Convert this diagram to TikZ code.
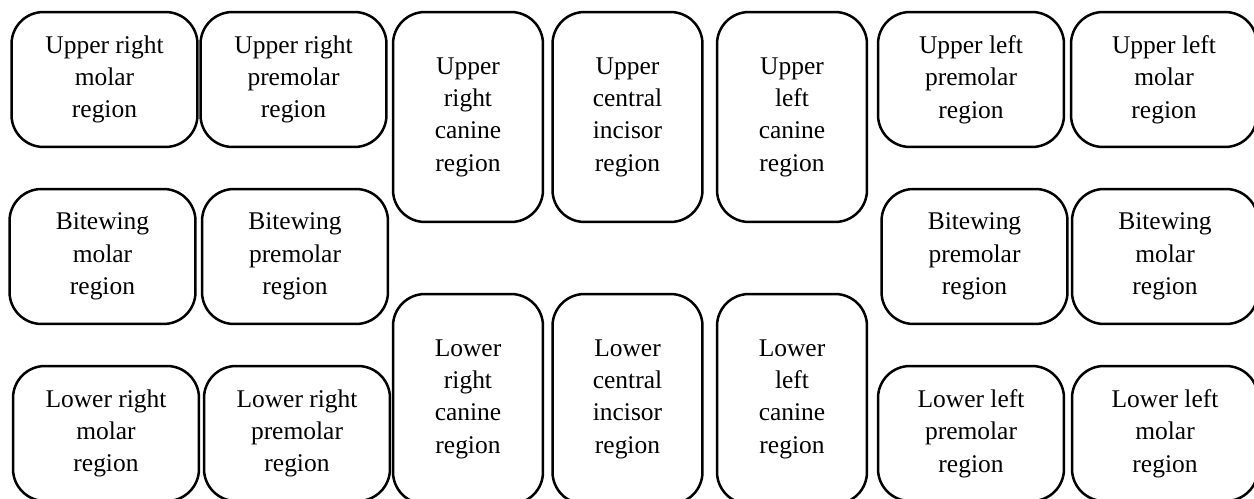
\documentclass[tikz,border=0pt]{standalone}
\usepackage{fontspec}
\setmainfont{Liberation Serif}
\usepackage{tikz}
\tikzset{region/.style={draw=black,line width=0.05cm,rounded corners=0.64cm,align=center,inner sep=0pt,
    font=\fontsize{14.5}{18.4}\selectfont},
  wide/.style={region,minimum width=3.72cm,minimum height=2.7cm},
  tall/.style={region,minimum width=3.0cm,minimum height=4.2cm}}
\begin{document}
\begin{tikzpicture}[line cap=round,line join=round,x=0.02cm,y=-0.02cm]
      \useasboundingbox (0,0) rectangle (1254,499);
      \clip (0,0) rectangle (1254,499);
      \node[wide] (urm) at (104.5,79.5) {Upper right\\molar\\region};
      \node[wide] (urp) at (293.5,79.5) {Upper right\\premolar\\region};
      \node[tall] (urc) at (468,117) {Upper\\right\\canine\\region};
      \node[tall] (uci) at (627.5,117) {Upper\\central\\incisor\\region};
      \node[tall] (ulc) at (792,117) {Upper\\left\\canine\\region};
      \node[wide] (ulp) at (971,79.5) {Upper left\\premolar\\region};
      \node[wide] (ulm) at (1164,79.5) {Upper left\\molar\\region};
      \node[wide] (brm) at (102.5,256.5) {Bitewing\\molar\\region};
      \node[wide] (brp) at (295,256.5) {Bitewing\\premolar\\region};
      \node[wide] (blp) at (974.5,256.5) {Bitewing\\premolar\\region};
      \node[wide] (blm) at (1165,256.5) {Bitewing\\molar\\region};
      \node[wide] (lrm) at (106,433.5) {Lower right\\molar\\region};
      \node[wide] (lrp) at (297,433.5) {Lower right\\premolar\\region};
      \node[tall] (lrc) at (468,399) {Lower\\right\\canine\\region};
      \node[tall] (lci) at (627.5,399) {Lower\\central\\incisor\\region};
      \node[tall] (llc) at (792,399) {Lower\\left\\canine\\region};
      \node[wide] (llp) at (971,433.5) {Lower left\\premolar\\region};
      \node[wide] (llm) at (1165,433.5) {Lower left\\molar\\region};
    \end{tikzpicture}
\end{document}
